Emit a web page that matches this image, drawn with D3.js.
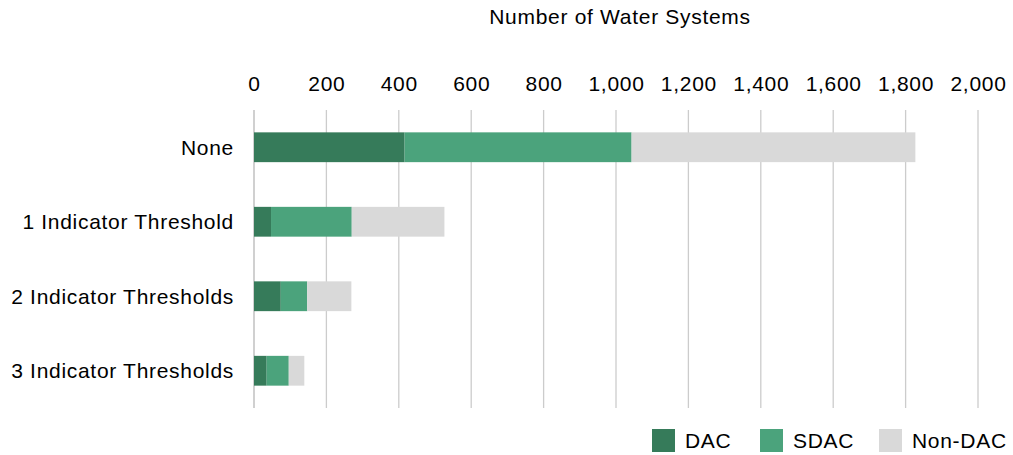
<!DOCTYPE html>
<html>
<head>
<meta charset="utf-8">
<script src="https://cdn.jsdelivr.net/npm/d3@7"></script>
<style>
  body { margin: 0; background: #fff; }
  svg { display: block; font-family: "Liberation Sans", Arial, sans-serif; }
  svg text { letter-spacing: 0.7px; }
</style>
</head>
<body>
<svg id="chart" width="1013" height="455"></svg>
<script>
// Water systems by number of indicator thresholds exceeded
const categories = ["None", "1 Indicator Threshold", "2 Indicator Thresholds", "3 Indicator Thresholds"];
const seriesNames = ["DAC", "SDAC", "Non-DAC"];
const dacValues = [416, 47, 74, 35];
const sdacValues = [627, 223, 73, 61];
const nonDacValues = [784, 256, 122, 43];
const tickValues = [0, 200, 400, 600, 800, 1000, 1200, 1400, 1600, 1800, 2000];

const colors = ["#367b5a", "#4ba37c", "#d9d9d9"];

const width = 1013;
const height = 455;
const margin = { top: 110, right: 35, bottom: 47, left: 254 };
const fontSize = 21;

const svg = d3.select("#chart");

const rows = categories.map((c, i) => ({
    category: c,
    "DAC": dacValues[i],
    "SDAC": sdacValues[i],
    "Non-DAC": nonDacValues[i]
}));

const stacked = d3.stack().keys(seriesNames)(rows);

const x = d3.scaleLinear()
    .domain([0, 2000])
    .range([margin.left, 978]);

const y = d3.scaleBand()
    .domain(categories)
    .range([margin.top, height - margin.bottom])
    .paddingInner(0.6)
    .paddingOuter(0.3);

// gridlines
svg.append("g")
    .selectAll("line")
    .data(tickValues)
    .join("line")
    .attr("x1", d => x(d))
    .attr("x2", d => x(d))
    .attr("y1", margin.top)
    .attr("y2", height - margin.bottom)
    .attr("stroke", d => d === 0 ? "#b7b7b7" : "#cccccc")
    .attr("stroke-width", 1.3);

// top axis labels
const axis = d3.axisTop(x)
    .tickValues(tickValues)
    .tickSize(0)
    .tickPadding(0)
    .tickFormat(d3.format(","));

svg.append("g")
    .attr("transform", "translate(0,91)")
    .call(axis)
    .call(g => g.select(".domain").remove())
    .selectAll("text")
    .attr("font-family", "Liberation Sans, Arial, sans-serif")
    .attr("font-size", fontSize)
    .attr("fill", "#000");

// axis title
svg.append("text")
    .attr("x", 620)
    .attr("y", 24)
    .attr("text-anchor", "middle")
    .attr("font-size", fontSize)
    .attr("fill", "#000")
    .text("Number of Water Systems");

// bars
svg.append("g")
    .selectAll("g")
    .data(stacked)
    .join("g")
    .attr("fill", (d, i) => colors[i])
    .selectAll("rect")
    .data(d => d)
    .join("rect")
    .attr("x", d => x(d[0]))
    .attr("width", d => x(d[1]) - x(d[0]))
    .attr("y", d => y(d.data.category))
    .attr("height", y.bandwidth());

// category labels
svg.append("g")
    .selectAll("text")
    .data(categories)
    .join("text")
    .attr("x", 234)
    .attr("y", d => y(d) + y.bandwidth() / 2)
    .attr("dy", "0.35em")
    .attr("text-anchor", "end")
    .attr("font-size", fontSize)
    .attr("fill", "#000")
    .text(d => d);

// legend
const legendX = [652, 760, 879];
const legend = svg.append("g")
    .selectAll("g")
    .data(seriesNames)
    .join("g")
    .attr("transform", (d, i) => `translate(${legendX[i]},429)`);

legend.append("rect")
    .attr("width", 23)
    .attr("height", 23)
    .attr("fill", (d, i) => colors[i]);

legend.append("text")
    .attr("x", 33)
    .attr("y", 11.5)
    .attr("dy", "0.35em")
    .attr("font-size", fontSize)
    .attr("fill", "#000")
    .text(d => d);
</script>
</body>
</html>
